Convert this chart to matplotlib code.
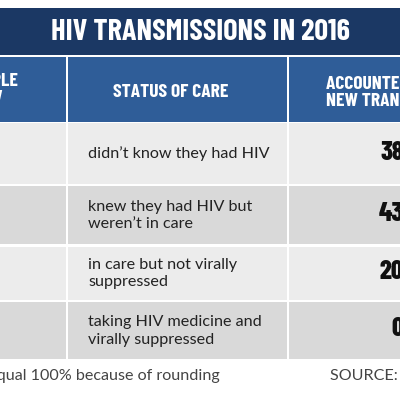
import matplotlib
matplotlib.use("Agg")
import matplotlib.pyplot as plt
import numpy as np

# table content
title = "HIV TRANSMISSIONS IN 2016"
headers = ["% OF PEOPLE\nWITH HIV", "STATUS OF CARE", "ACCOUNTED FOR % OF\nNEW TRANSMISSIONS"]
care_status = [
    "didn\u2019t know they had HIV",
    "knew they had HIV but\nweren\u2019t in care",
    "in care but not virally\nsuppressed",
    "taking HIV medicine and\nvirally suppressed",
]
people_share = [15, 23, 11, 51]
transmission_share = [38, 43, 20, 0]
footnote = "Percentages do not equal 100% because of rounding"
source = "SOURCE: CDC Vital Signs"

# layout in pixels (figure is 400x400, y grows downwards)
col_edges = [(-140, 66), (68, 287), (289, 520)]
row_edges = [(123, 184), (186, 244), (247, 299.5), (302, 359)]
title_band = (8, 55)
header_band = (57, 122)

NAVY = "#1b3864"
BLUE = "#2f5d98"
ROW_COLORS = ["#ececec", "#d9d9d9"]
COND = "Barlow Condensed"
BODY = "Lato"

fig = plt.figure(figsize=(4, 4), dpi=100)
ax = fig.add_axes([0, 0, 1, 1])
ax.set_xlim(0, 400)
ax.set_ylim(400, 0)
ax.axis("off")

# title band
ax.barh((title_band[0] + title_band[1]) / 2, 560, left=-80,
        height=title_band[1] - title_band[0], color=NAVY)
ax.text(200, 32.5, title, color="white", fontsize=21.8, fontweight="bold",
        family=COND, ha="center", va="center")

# header cells
for (x0, x1) in col_edges:
    ax.barh((header_band[0] + header_band[1]) / 2, x1 - x0, left=x0,
            height=header_band[1] - header_band[0], color=BLUE)

hdr_kw = dict(color="white", fontsize=14, fontweight="bold", family=COND,
              va="center", linespacing=1.0)
ax.text(17.5, 90, headers[0], ha="right", multialignment="center", **hdr_kw)
ax.text(170.5, 92.5, headers[1], ha="center", **hdr_kw)
ax.text(326.5, 93, headers[2], ha="left", multialignment="left", **hdr_kw)

# body rows
for i, (y0, y1) in enumerate(row_edges):
    yc = (y0 + y1) / 2
    for (x0, x1) in col_edges:
        ax.barh(yc, x1 - x0, left=x0, height=y1 - y0,
                color=ROW_COLORS[i % 2])
    ax.text(-37, yc, f"{people_share[i]}%", fontsize=20, fontweight="bold",
            family=COND, color="#111111", ha="center", va="center")
    ax.text(88, yc + 0.5, care_status[i], fontsize=11.6, family=BODY,
            color="#222222", ha="left", va="center", linespacing=1.3)
    ax.text(424, yc - 1, f"{transmission_share[i]}%", fontsize=19,
            fontweight="heavy", family=COND, color="#111111",
            ha="right", va="center")

# footer
ax.text(220, 376, footnote, fontsize=11.6, family=BODY, color="#444444",
        ha="right", va="center")
ax.text(330, 376, source, fontsize=11.6, family=BODY, color="#444444",
        ha="left", va="center")

fig.savefig("out.png", dpi=100)
